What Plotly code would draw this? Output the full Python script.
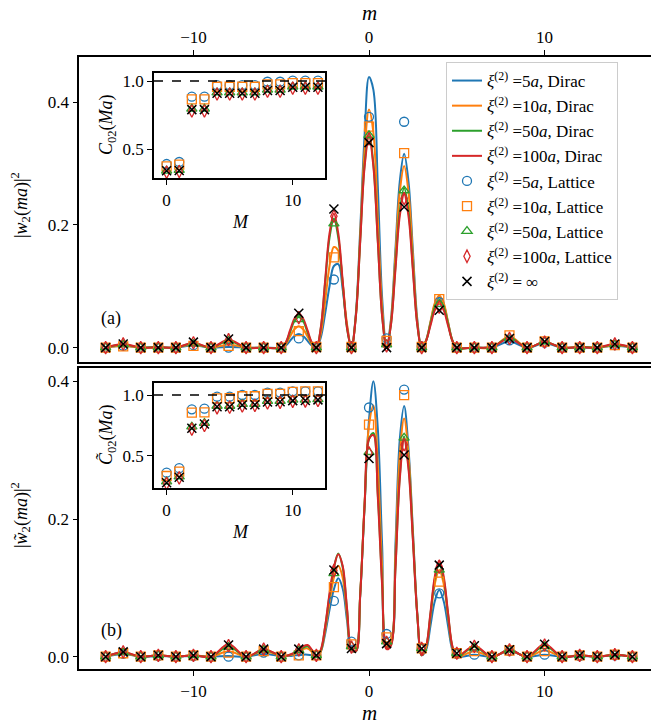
import plotly.graph_objects as go

# lattice sites m and Dirac sampling grid
m_lat = list(range(-15, 16))
m_dirac = list(range(-15, -5)) + [-5 + 0.25 * k for k in range(41)] + list(range(6, 16))
M_inset = list(range(0, 13))

# ---- panel (a): |w2(ma)|^2 ----
blue_a_dirac = [0, 0.003, 0, 0, 0, 0.004, 0, 0.001, 0, 0,
                0, 0.003, 0.011, 0.019, 0.022, 0.019, 0.011, 0.003, 0,
                0.016, 0.055, 0.100, 0.133, 0.136, 0.095, 0.035, 0,
                0.055, 0.193, 0.347, 0.441, 0.420, 0.264, 0.080, 0,
                0.046, 0.158, 0.270, 0.316, 0.270, 0.158, 0.046, 0,
                0.012, 0.041, 0.070, 0.082, 0.070, 0.041, 0.012, 0,
                0, 0, 0.010, 0, 0.007, 0, 0, 0, 0.003, 0]
orange_a_dirac = [0, 0.003, 0, 0, 0, 0.005, 0, 0.005, 0, 0,
                  0, 0.005, 0.018, 0.030, 0.035, 0.030, 0.018, 0.005, 0,
                  0.022, 0.075, 0.133, 0.164, 0.158, 0.105, 0.038, 0,
                  0.052, 0.185, 0.322, 0.388, 0.350, 0.210, 0.065, 0,
                  0.043, 0.148, 0.253, 0.296, 0.253, 0.148, 0.043, 0,
                  0.012, 0.042, 0.073, 0.085, 0.073, 0.042, 0.012, 0,
                  0, 0, 0.018, 0, 0.009, 0, 0.001, 0, 0.004, 0]
green_a_dirac = [0, 0.005, 0, 0.001, 0, 0.007, 0, 0.011, 0, 0,
                 0, 0.007, 0.025, 0.043, 0.050, 0.043, 0.025, 0.007, 0,
                 0.031, 0.105, 0.179, 0.210, 0.179, 0.105, 0.031, 0,
                 0.051, 0.175, 0.299, 0.350, 0.299, 0.175, 0.051, 0,
                 0.038, 0.130, 0.222, 0.260, 0.222, 0.130, 0.038, 0,
                 0.011, 0.039, 0.066, 0.077, 0.066, 0.039, 0.011, 0,
                 0, 0.001, 0.016, 0, 0.009, 0, 0.001, 0, 0.005, 0]
red_a_dirac = [0, 0.006, 0, 0.001, 0, 0.008, 0, 0.013, 0, 0,
               0, 0.008, 0.028, 0.047, 0.055, 0.047, 0.028, 0.008, 0,
               0.032, 0.109, 0.186, 0.218, 0.186, 0.109, 0.032, 0,
               0.050, 0.173, 0.295, 0.345, 0.295, 0.173, 0.050, 0,
               0.037, 0.125, 0.214, 0.250, 0.214, 0.125, 0.037, 0,
               0.011, 0.036, 0.061, 0.072, 0.061, 0.036, 0.011, 0,
               0, 0.001, 0.015, 0, 0.009, 0, 0.001, 0, 0.006, 0]

blue_a_lat = [0, 0.003, 0, 0, 0, 0.004, 0, 0, 0, 0, 0, 0.015, 0.001, 0.111, 0.002, 0.376,
              0.015, 0.368, 0.002, 0.074, 0, 0, 0, 0.012, 0, 0.008, 0, 0, 0, 0.004, 0]
orange_a_lat = [0, 0.002, 0, 0, 0, 0.003, 0, 0.003, 0, 0, 0, 0.027, 0.001, 0.147, 0.001, 0.360,
                0.011, 0.317, 0.001, 0.079, 0, 0, 0, 0.020, 0, 0.010, 0, 0, 0, 0.004, 0]
green_a_lat = [0, 0.005, 0, 0, 0, 0.006, 0, 0.011, 0, 0, 0, 0.046, 0, 0.202, 0, 0.346,
               0.005, 0.256, 0, 0.071, 0, 0, 0, 0.016, 0, 0.010, 0, 0, 0, 0.005, 0]
red_a_lat = [0, 0.006, 0, 0, 0, 0.008, 0, 0.013, 0, 0, 0, 0.049, 0, 0.214, 0, 0.340,
             0.003, 0.243, 0, 0.066, 0, 0, 0, 0.015, 0, 0.009, 0, 0, 0, 0.006, 0]
inf_a_lat = [0, 0.006, 0, 0, 0, 0.009, 0, 0.014, 0, 0, 0, 0.056, 0, 0.226, 0, 0.334,
             0, 0.229, 0, 0.061, 0, 0, 0, 0.015, 0, 0.010, 0, 0, 0, 0.006, 0]

# ---- panel (b): |w~2(ma)|^2 ----
blue_b_dirac = [0, 0.004, 0, 0.001, 0, 0.001, 0, 0.001, 0, 0.004,
                0.001, 0.001, 0.001, 0.002, 0.002, 0.003, 0.003, 0.002, 0,
                0.007, 0.033, 0.068, 0.098, 0.114, 0.099, 0.052, 0.009,
                0.008, 0.089, 0.222, 0.344, 0.400, 0.332, 0.160, 0.019,
                0.022, 0.159, 0.315, 0.364, 0.302, 0.183, 0.063, 0.002,
                0.010, 0.045, 0.081, 0.097, 0.081, 0.045, 0.010, 0,
                0.003, 0, 0.008, 0, 0.003, 0, 0.001, 0, 0.002, 0]
orange_b_dirac = [0, 0.005, 0, 0.002, 0, 0.002, 0, 0.008, 0, 0.008,
                  0.001, 0.001, 0.002, 0.004, 0.007, 0.011, 0.012, 0.007, 0.001,
                  0.008, 0.038, 0.079, 0.115, 0.132, 0.115, 0.060, 0.010,
                  0.008, 0.092, 0.225, 0.336, 0.365, 0.279, 0.128, 0.015,
                  0.020, 0.145, 0.293, 0.346, 0.293, 0.179, 0.062, 0.002,
                  0.013, 0.058, 0.106, 0.126, 0.106, 0.058, 0.013, 0,
                  0.008, 0, 0.009, 0, 0.009, 0, 0.002, 0, 0.003, 0]
green_b_dirac = [0, 0.006, 0, 0.002, 0, 0.002, 0, 0.015, 0, 0.010,
                 0.001, 0.001, 0.003, 0.005, 0.009, 0.013, 0.015, 0.009, 0.001,
                 0.009, 0.043, 0.089, 0.129, 0.150, 0.130, 0.068, 0.011,
                 0.008, 0.091, 0.219, 0.316, 0.325, 0.237, 0.106, 0.012,
                 0.017, 0.126, 0.261, 0.320, 0.277, 0.172, 0.060, 0.002,
                 0.014, 0.062, 0.113, 0.135, 0.113, 0.062, 0.014, 0,
                 0.014, 0, 0.010, 0, 0.016, 0, 0.002, 0, 0.003, 0]
red_b_dirac = [0, 0.007, 0, 0.002, 0, 0.002, 0, 0.018, 0, 0.011,
               0.001, 0.001, 0.003, 0.006, 0.010, 0.015, 0.017, 0.010, 0.001,
               0.010, 0.044, 0.092, 0.130, 0.149, 0.132, 0.070, 0.012,
               0.008, 0.090, 0.220, 0.316, 0.322, 0.232, 0.102, 0.011,
               0.016, 0.124, 0.257, 0.315, 0.272, 0.169, 0.060, 0.002,
               0.015, 0.064, 0.117, 0.140, 0.117, 0.064, 0.015, 0,
               0.016, 0, 0.010, 0, 0.018, 0, 0.002, 0, 0.003, 0]

blue_b_lat = [0, 0.004, 0, 0.001, 0, 0.001, 0, 0, 0, 0.006, 0, 0.002, 0.002, 0.081, 0.022, 0.362,
              0.033, 0.388, 0.012, 0.092, 0.004, 0.003, 0, 0.008, 0, 0.003, 0, 0.001, 0, 0.002, 0]
orange_b_lat = [0, 0.005, 0, 0.002, 0, 0.002, 0, 0.006, 0, 0.008, 0, 0.002, 0.002, 0.101, 0.018, 0.337,
                0.028, 0.380, 0.012, 0.109, 0.005, 0.008, 0, 0.009, 0, 0.008, 0, 0.002, 0, 0.003, 0]
green_b_lat = [0, 0.006, 0, 0.002, 0, 0.002, 0, 0.014, 0, 0.010, 0, 0.009, 0.002, 0.121, 0.015, 0.297,
               0.022, 0.318, 0.012, 0.126, 0.005, 0.013, 0, 0.010, 0, 0.015, 0, 0.002, 0, 0.003, 0]
red_b_lat = [0, 0.007, 0, 0.002, 0, 0.002, 0, 0.016, 0, 0.011, 0, 0.010, 0.002, 0.125, 0.014, 0.296,
             0.021, 0.308, 0.012, 0.130, 0.005, 0.015, 0, 0.010, 0, 0.017, 0, 0.002, 0, 0.003, 0]
inf_b_lat = [0, 0.007, 0, 0.002, 0, 0.002, 0, 0.017, 0, 0.011, 0, 0.011, 0.002, 0.126, 0.012, 0.288,
             0.019, 0.293, 0.012, 0.133, 0.005, 0.016, 0, 0.010, 0, 0.018, 0, 0.002, 0, 0.003, 0]

# ---- insets: C02(Ma) ----
blue_a_C = [0.390, 0.405, 0.885, 0.885, 0.970, 0.970, 0.970, 0.970, 0.995, 0.995, 1.003, 1.003, 1.003]
orange_a_C = [0.372, 0.385, 0.865, 0.865, 0.958, 0.958, 0.958, 0.958, 0.975, 0.975, 0.985, 0.985, 0.985]
green_a_C = [0.340, 0.345, 0.795, 0.795, 0.915, 0.915, 0.915, 0.915, 0.935, 0.935, 0.958, 0.958, 0.958]
red_a_C = [0.330, 0.335, 0.780, 0.780, 0.905, 0.905, 0.905, 0.905, 0.925, 0.925, 0.948, 0.948, 0.948]
inf_a_C = [0.340, 0.342, 0.790, 0.790, 0.910, 0.910, 0.910, 0.910, 0.930, 0.930, 0.955, 0.955, 0.955]

blue_b_C = [0.363, 0.400, 0.883, 0.888, 0.986, 0.986, 1.000, 1.000, 1.020, 1.020, 1.030, 1.030, 1.030]
orange_b_C = [0.336, 0.372, 0.855, 0.858, 0.973, 0.975, 0.990, 0.990, 1.010, 1.010, 1.025, 1.030, 1.030]
green_b_C = [0.290, 0.330, 0.740, 0.770, 0.910, 0.910, 0.925, 0.925, 0.950, 0.950, 0.960, 0.960, 0.965]
red_b_C = [0.275, 0.320, 0.720, 0.750, 0.895, 0.900, 0.910, 0.915, 0.935, 0.940, 0.948, 0.950, 0.955]
inf_b_C = [0.281, 0.325, 0.727, 0.762, 0.904, 0.904, 0.918, 0.920, 0.943, 0.945, 0.954, 0.955, 0.960]

colors = ["#1f77b4", "#ff7f0e", "#2ca02c", "#d62728"]
xis = ["5", "10", "50", "100"]
symbols = ["circle-open", "square-open", "triangle-up-open", "diamond-tall-open"]
FONT = "Liberation Serif"
W, H = 651, 726

fig = go.Figure()

panels = [
    ("x", "y", [blue_a_dirac, orange_a_dirac, green_a_dirac, red_a_dirac],
     [blue_a_lat, orange_a_lat, green_a_lat, red_a_lat], inf_a_lat, True),
    ("x2", "y2", [blue_b_dirac, orange_b_dirac, green_b_dirac, red_b_dirac],
     [blue_b_lat, orange_b_lat, green_b_lat, red_b_lat], inf_b_lat, False),
]
for xa, ya, dirac, lat, inf, leg in panels:
    for i in range(4):
        fig.add_trace(go.Scatter(
            x=m_dirac, y=dirac[i], mode="lines", xaxis=xa, yaxis=ya,
            line=dict(color=colors[i], width=2, shape="spline", smoothing=1),
            name="<i>ξ</i><sup>(2)</sup> =" + xis[i] + "<i>a</i>, Dirac",
            showlegend=leg,
        ))
for xa, ya, dirac, lat, inf, leg in panels:
    for i in range(4):
        fig.add_trace(go.Scatter(
            x=m_lat, y=lat[i], mode="markers", xaxis=xa, yaxis=ya,
            marker=dict(symbol=symbols[i], size=9, color=colors[i],
                        line=dict(width=1.3, color=colors[i])),
            name="<i>ξ</i><sup>(2)</sup> =" + xis[i] + "<i>a</i>, Lattice",
            showlegend=leg,
        ))
    fig.add_trace(go.Scatter(
        x=m_lat, y=inf, mode="markers", xaxis=xa, yaxis=ya,
        marker=dict(symbol="x-thin-open", size=9, color="black",
                    line=dict(width=1.5, color="black")),
        name="<i>ξ</i><sup>(2)</sup> = ∞", showlegend=leg,
    ))

insets = [
    ("x3", "y3", [blue_a_C, orange_a_C, green_a_C, red_a_C], inf_a_C),
    ("x4", "y4", [blue_b_C, orange_b_C, green_b_C, red_b_C], inf_b_C),
]
for xa, ya, cs, inf in insets:
    for i in range(4):
        fig.add_trace(go.Scatter(
            x=M_inset, y=cs[i], mode="markers", xaxis=xa, yaxis=ya, showlegend=False,
            marker=dict(symbol=symbols[i], size=9, color=colors[i],
                        line=dict(width=1.3, color=colors[i])),
        ))
    fig.add_trace(go.Scatter(
        x=M_inset, y=inf, mode="markers", xaxis=xa, yaxis=ya, showlegend=False,
        marker=dict(symbol="x-thin-open", size=9, color="black",
                    line=dict(width=1.5, color="black")),
    ))
    fig.add_shape(type="line", xref=xa + " domain", yref=ya, x0=0, x1=1, y0=1, y1=1,
                  line=dict(color="black", width=1.5, dash="dash"))


def px_x(p):
    return p / W


def px_y(p):
    return 1 - p / H


axis_common = dict(showline=True, linecolor="black", linewidth=1.6, ticks="outside",
                   ticklen=5, tickwidth=1.4, tickcolor="black", showgrid=False,
                   zeroline=False, automargin=False,
                   tickfont=dict(family=FONT, size=17, color="black"))

fig.update_layout(
    template="none",
    width=W, height=H,
    margin=dict(l=0, r=0, t=0, b=0, pad=0),
    plot_bgcolor="white", paper_bgcolor="white",
    font=dict(family=FONT, color="black"),
    xaxis=dict(axis_common, domain=[px_x(79.3), 1.0], range=[-16.5, 16.06], anchor="y",
               side="top", mirror=True, tickvals=[-10, 0, 10]),
    yaxis=dict(axis_common, domain=[px_y(361.5), px_y(56.7)], range=[-0.0226, 0.474],
               anchor="x", tickvals=[0, 0.2, 0.4], tickformat=".1f"),
    xaxis2=dict(axis_common, domain=[px_x(79.3), 1.0], range=[-16.5, 16.06], anchor="y2",
                side="bottom", mirror=True, tickvals=[-10, 0, 10]),
    yaxis2=dict(axis_common, domain=[px_y(669.3), px_y(367.7)], range=[-0.0183, 0.4198],
                anchor="x2", tickvals=[0, 0.2, 0.4], tickformat=".1f"),
    xaxis3=dict(axis_common, domain=[px_x(154), px_x(325)], range=[-1.0, 12.56], anchor="y3",
                mirror=True, tickvals=[0, 10]),
    yaxis3=dict(axis_common, domain=[px_y(178.3), px_y(73.3)], range=[0.285, 1.057],
                anchor="x3", mirror=True, tickvals=[0.5, 1.0], tickformat=".1f"),
    xaxis4=dict(axis_common, domain=[px_x(154), px_x(325)], range=[-1.0, 12.56], anchor="y4",
                mirror=True, tickvals=[0, 10]),
    yaxis4=dict(axis_common, domain=[px_y(488.3), px_y(383.3)], range=[0.235, 1.096],
                anchor="x4", mirror=True, tickvals=[0.5, 1.0], tickformat=".1f"),
    legend=dict(x=px_x(446), y=px_y(62), xanchor="left", yanchor="top",
                bgcolor="rgba(255,255,255,0.85)", bordercolor="#cccccc", borderwidth=1,
                font=dict(family=FONT, size=17, color="black"), itemwidth=30,
                tracegroupgap=0),
)

ann = [
    ("<i>m</i>", 369, 13, 0, 21),
    ("<i>m</i>", 369, 713, 0, 21),
    ("|<i>w</i><sub>2</sub>(<i>ma</i>)|<sup>2</sup>", 20, 205, -90, 18),
    ("|<i>w̃</i><sub>2</sub>(<i>ma</i>)|<sup>2</sup>", 20, 515, -90, 18),
    ("<i>C</i><sub>02</sub>(<i>Ma</i>)", 107, 125, -90, 18),
    ("<i>C̃</i><sub>02</sub>(<i>Ma</i>)", 107, 435, -90, 18),
    ("<i>M</i>", 240, 222, 0, 18),
    ("<i>M</i>", 240, 532, 0, 18),
    ("(a)", 111, 318, 0, 18),
    ("(b)", 111, 630, 0, 18),
]
for text, ax_, ay_, ang, size in ann:
    fig.add_annotation(text=text, x=px_x(ax_), y=px_y(ay_), xref="paper", yref="paper",
                       showarrow=False, textangle=ang, xanchor="center", yanchor="middle",
                       font=dict(family=FONT, size=size, color="black"))

# the page body has a default margin; drop it so the figure sits at the window corner
fig.write_html("out.html", config={"displayModeBar": False},
               post_script="document.body.style.margin='0';")
